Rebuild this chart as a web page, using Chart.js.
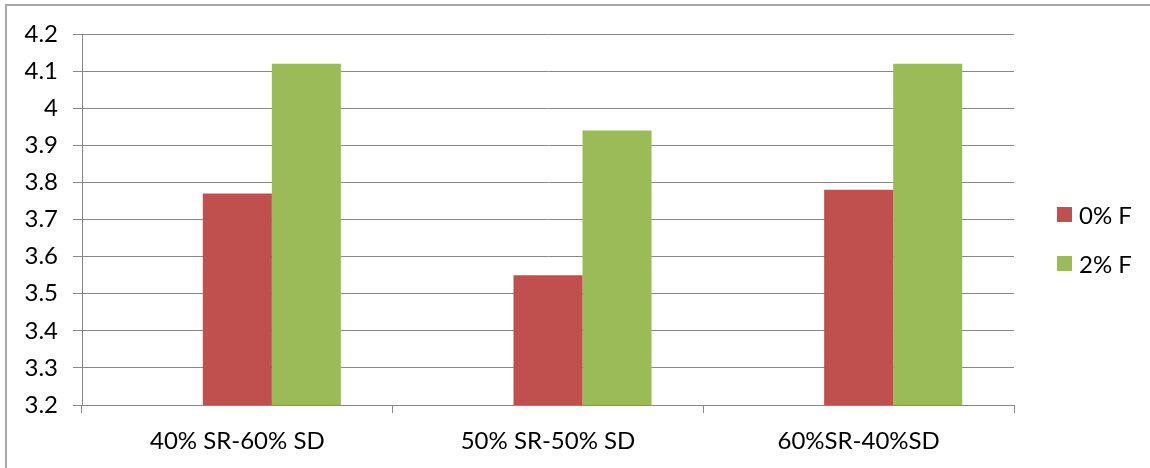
<!DOCTYPE html>
<html>
<head>
<meta charset="utf-8">
<script src="https://cdn.jsdelivr.net/npm/chart.js@4"></script>
<style>
  html, body { margin: 0; padding: 0; background: #fff; overflow: hidden; }
  #wrap { position: relative; width: 1150px; height: 468px; }
  #frame { position: absolute; left: 5px; top: 4px; width: 2000px; height: 2000px;
           border-top: 2px solid #a8a8a8; border-left: 2px solid #a8a8a8; pointer-events: none; }
  #legend { position: absolute; left: 1057px; top: 202px; font: 24px Lato, sans-serif; color: #000; }
  .item { display: flex; align-items: center; height: 24px; margin-bottom: 25px; }
  .sw { width: 15px; height: 15px; margin-right: 7px; }
</style>
</head>
<body>
<div id="wrap">
  <canvas id="c" width="1150" height="468"></canvas>
  <div id="frame"></div>
  <div id="legend"></div>
</div>
<script>
const categories = ["40% SR-60% SD", "50% SR-50% SD", "60%SR-40%SD"];
const seriesNames = ["0% F", "2% F"];
const seriesColors = ["#C0504D", "#9BBB59"];
const values0 = [3.77, 3.55, 3.78];
const values2 = [4.12, 3.94, 4.12];
// the source sheet has an empty first series that still takes a bar slot
const emptySeries = [null, null, null];
const yMin = 3.2, yMax = 4.2, yStep = 0.1;

const GRID = "#888888";
const FONT = { family: "Lato, sans-serif", size: 24 };

// html legend built from the series arrays
document.getElementById("legend").innerHTML = seriesNames
  .map((n, i) => `<div class="item"><span class="sw" style="background:${seriesColors[i]}"></span>${n}</div>`)
  .join("");

new Chart(document.getElementById("c"), {
  type: "bar",
  data: {
    labels: categories,
    datasets: [
      { label: "", data: emptySeries, backgroundColor: "#4F81BD" },
      { label: seriesNames[0], data: values0, backgroundColor: seriesColors[0] },
      { label: seriesNames[1], data: values2, backgroundColor: seriesColors[1] },
    ],
  },
  options: {
    responsive: false,
    animation: false,
    layout: { padding: { top: 34, right: 136, bottom: 0, left: 0 } },
    datasets: { bar: { categoryPercentage: 3 / 4.5, barPercentage: 1.0 } },
    plugins: { legend: { display: false }, tooltip: { enabled: false } },
    scales: {
      x: {
        grid: { drawOnChartArea: false, drawTicks: true, tickLength: 8, color: GRID, offset: true },
        border: { color: GRID, width: 1 },
        ticks: { color: "#000", font: FONT, padding: 14, maxRotation: 0 },
        afterFit: (s) => { s.height = 63; },
      },
      y: {
        min: yMin,
        max: yMax,
        grid: { color: GRID, lineWidth: 1, tickLength: 9 },
        border: { color: GRID, width: 1 },
        ticks: {
          stepSize: yStep,
          color: "#000",
          font: FONT,
          padding: 15,
          callback: (v) => String(Number(v.toFixed(1))),
        },
        afterFit: (s) => { s.width = 82; },
      },
    },
  },
});
</script>
</body>
</html>
